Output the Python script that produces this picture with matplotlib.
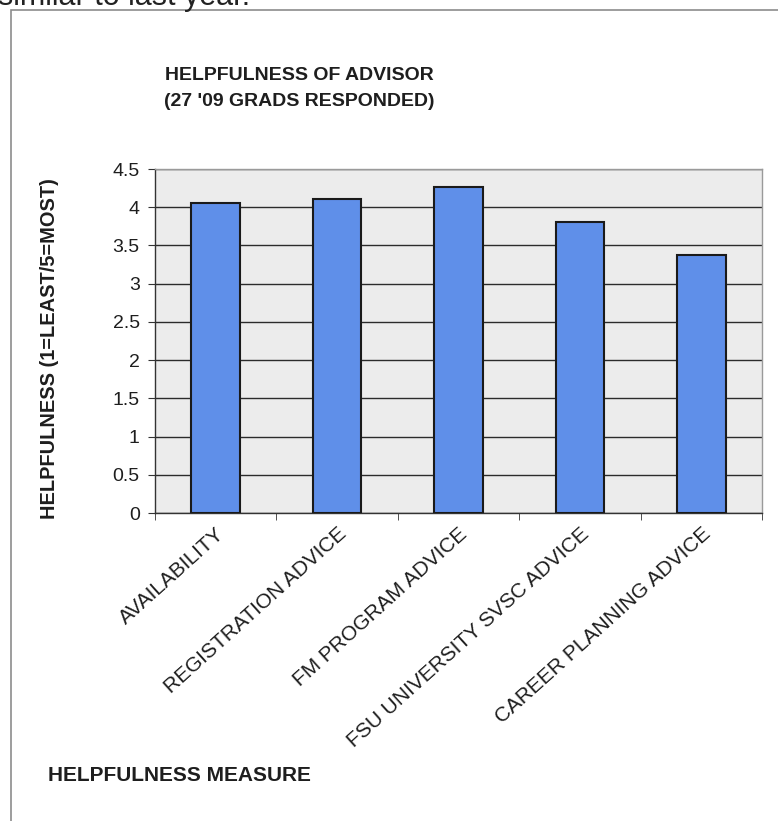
import matplotlib
matplotlib.use("Agg")
import matplotlib.pyplot as plt
from matplotlib.patches import Rectangle
from matplotlib.ticker import MultipleLocator, FixedLocator

plt.rcParams["font.family"] = ["Liberation Sans", "DejaVu Sans"]

categories = [
    "AVAILABILITY",
    "REGISTRATION ADVICE",
    "FM PROGRAM ADVICE",
    "FSU UNIVERSITY SVSC ADVICE",
    "CAREER PLANNING ADVICE",
]
scores = [4.06, 4.11, 4.26, 3.81, 3.37]

title_lines = ["HELPFULNESS OF ADVISOR", "(27 '09 GRADS RESPONDED)"]
ylabel = "HELPFULNESS (1=LEAST/5=MOST)"
xlabel = "HELPFULNESS MEASURE"

W, H = 778, 821
fig = plt.figure(figsize=(W / 100, H / 100), dpi=100)

# outer chart frame (runs off the right and bottom edges)
fig.patches.append(Rectangle((11 / W, -0.1), 1.2, 1 - 10 / H + 0.1,
                             transform=fig.transFigure, fill=False,
                             edgecolor="#8c8c8c", linewidth=1.2))
# clipped line of page text above the chart
fig.text(-0.002, 1 - 5 / H, "similar to last year.", fontsize=22,
         color="#222222", va="baseline", ha="left")

ax = fig.add_axes([155 / W, 1 - 513 / H, 607 / W, 344 / H])
ax.set_facecolor("#ececec")

x = range(len(categories))
ax.bar(x, scores, width=0.4, color="#5f8fe9", edgecolor="#1a1a1a",
       linewidth=1.5, zorder=3)

ax.set_xlim(-0.5, len(categories) - 0.5)
ax.set_ylim(0, 4.5)
ax.yaxis.set_major_locator(MultipleLocator(0.5))
ax.set_yticklabels([f"{v:g}" for v in ax.get_yticks()])
ax.grid(axis="y", color="#2b2b2b", linewidth=1.0, zorder=1)

ax.set_xticks(list(x))
ax.set_xticklabels(categories, rotation=42, ha="right", va="top",
                   rotation_mode="anchor", fontsize=15, color="#1e1e1e")
ax.tick_params(axis="x", which="major", length=0, pad=8)
ax.xaxis.set_minor_locator(FixedLocator([i + 0.5 for i in range(-1, len(categories))]))
ax.tick_params(axis="x", which="minor", length=5, direction="out", color="#333333")
ax.tick_params(axis="y", length=5, direction="out", color="#333333",
               labelsize=14, labelcolor="#1e1e1e", pad=6)

for side in ("left", "bottom"):
    ax.spines[side].set_color("#333333")
    ax.spines[side].set_linewidth(1.0)
for side in ("top", "right"):
    ax.spines[side].set_color("#9a9a9a")
    ax.spines[side].set_linewidth(1.0)

ax.set_ylabel(ylabel, fontsize=14.4, fontweight="bold", color="#1e1e1e",
              va="center")
ax.yaxis.set_label_coords(-0.173, 0.477)

fig.text(299 / W, 1 - 76 / H, title_lines[0], fontsize=14, fontweight="bold",
         ha="center", va="center", color="#1e1e1e")
fig.text(299 / W, 1 - 101 / H, title_lines[1], fontsize=14, fontweight="bold",
         ha="center", va="center", color="#1e1e1e")
fig.text(48 / W, 1 - 775 / H, xlabel, fontsize=15, fontweight="bold",
         ha="left", va="center", color="#1e1e1e")

fig.savefig("out.png", dpi=100)
